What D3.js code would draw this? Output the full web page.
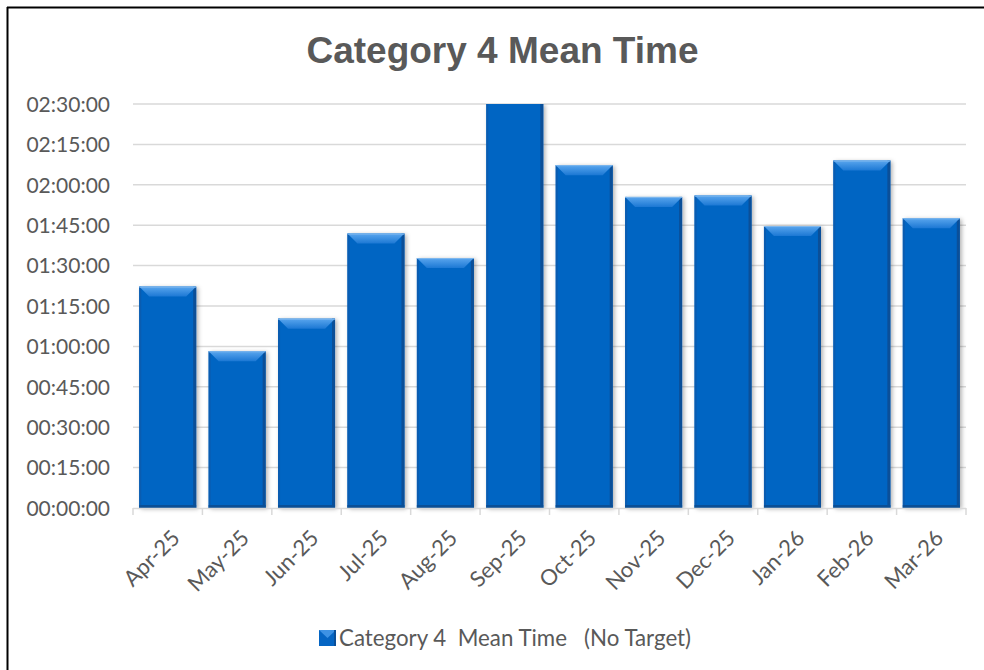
<!DOCTYPE html>
<html>
<head>
<meta charset="utf-8">
<script src="https://cdn.jsdelivr.net/npm/d3@7"></script>
<style>
  html, body { margin: 0; padding: 0; background: #fff; }
  svg { display: block; }
</style>
</head>
<body>
<div id="chart"></div>
<script>
// ---- data ----
const categories = ["Apr-25","May-25","Jun-25","Jul-25","Aug-25","Sep-25","Oct-25","Nov-25","Dec-25","Jan-26","Feb-26","Mar-26"];
const meanTimes = ["01:22:12","00:58:12","01:10:18","01:41:54","01:32:48","02:33:00","02:07:18","01:55:30","01:56:00","01:44:42","02:09:00","01:47:36"];
const yTickLabels = ["00:00:00","00:15:00","00:30:00","00:45:00","01:00:00","01:15:00","01:30:00","01:45:00","02:00:00","02:15:00","02:30:00"];
const chartTitle = "Category 4 Mean Time";
const seriesName = "Category 4  Mean Time   (No Target)";

const toSec = s => { const p = s.split(":").map(Number); return p[0]*3600 + p[1]*60 + p[2]; };
const values = meanTimes.map(toSec);
const yTicks = yTickLabels.map(toSec);

const W = 984, H = 670;
const plot = { left: 133, right: 966, top: 104, bottom: 508 };

const svg = d3.select("#chart").append("svg").attr("width", W).attr("height", H);

const defs = svg.append("defs");
const topGrad = defs.append("linearGradient").attr("id","topGrad").attr("x1",0).attr("y1",0).attr("x2",0).attr("y2",1);
topGrad.append("stop").attr("offset","0%").attr("stop-color","#5aa6ee");
topGrad.append("stop").attr("offset","100%").attr("stop-color","#1c78d4");
const shadow = defs.append("filter").attr("id","shadow").attr("x","-20%").attr("y","-20%").attr("width","140%").attr("height","140%");
shadow.append("feDropShadow").attr("dx",2).attr("dy",1).attr("stdDeviation",2).attr("flood-color","#000").attr("flood-opacity",0.3);
defs.append("clipPath").attr("id","plotClip").append("rect")
  .attr("x", plot.left - 10).attr("y", plot.top).attr("width", plot.right - plot.left + 20).attr("height", plot.bottom - plot.top + 10);

// border (top and left visible)
svg.append("line").attr("x1",7).attr("x2",W).attr("y1",7.5).attr("y2",7.5).attr("stroke","#000").attr("stroke-width",2);
svg.append("line").attr("x1",7.5).attr("x2",7.5).attr("y1",7).attr("y2",H).attr("stroke","#000").attr("stroke-width",2);

// title
svg.append("text").attr("x", 502.5).attr("y", 63).attr("text-anchor","middle")
  .attr("font-family","'Liberation Sans', Arial, sans-serif").attr("font-weight","bold")
  .attr("font-size", 37).attr("fill","#595959").text(chartTitle);

const x = d3.scaleBand().domain(categories).range([plot.left, plot.right]).paddingInner(0.179).paddingOuter(0.0895);
const y = d3.scaleLinear().domain([0, toSec("02:30:00")]).range([plot.bottom, plot.top]);

const fontFam = "Lato, 'Liberation Sans', sans-serif";

// gridlines
svg.append("g").selectAll("line").data(yTicks.slice(1)).join("line")
  .attr("x1", plot.left).attr("x2", plot.right)
  .attr("y1", d => y(d)).attr("y2", d => y(d))
  .attr("stroke","#d9d9d9").attr("stroke-width",1.5);

// y-axis labels
const yAxis = d3.axisLeft(y).tickValues(yTicks).tickSize(0).tickPadding(23).tickFormat((d,i) => yTickLabels[i]);
const gy = svg.append("g").attr("transform",`translate(${plot.left},0)`).call(yAxis);
gy.select(".domain").remove();
gy.selectAll("text").attr("font-family", fontFam).attr("font-size", 21).attr("fill","#595959").attr("dy","0.35em");

// bars
const bars = svg.append("g").attr("clip-path","url(#plotClip)")
  .selectAll("g.bar").data(categories.map((c,i) => ({c, v: values[i]}))).join("g").attr("class","bar");
const bw = x.bandwidth();
const bev = 10;
bars.each(function(d) {
  const g = d3.select(this);
  const x0 = x(d.c), x1 = x0 + bw;
  const yt = Math.max(y(d.v), plot.top), yb = y(0);
  const clipped = y(d.v) < plot.top;
  g.append("rect").attr("x", x0).attr("y", yt).attr("width", bw).attr("height", yb - yt)
    .attr("fill","#0565c3").attr("filter","url(#shadow)");
  g.append("rect").attr("x", x1 - 3).attr("y", yt).attr("width", 3).attr("height", yb - yt).attr("fill","#0b4f98");
  g.append("rect").attr("x", x0).attr("y", yt).attr("width", 2).attr("height", yb - yt).attr("fill","#0a5cb0");
  g.append("rect").attr("x", x0).attr("y", yb - 3).attr("width", bw).attr("height", 3).attr("fill","#0a4f96");
  if (!clipped) {
    g.append("path")
      .attr("d", `M${x0},${yt} L${x1},${yt} L${x1 - bev},${yt + bev} L${x0 + bev},${yt + bev} Z`)
      .attr("fill","url(#topGrad)");
    g.append("line").attr("x1", x0).attr("x2", x1).attr("y1", yt + 0.5).attr("y2", yt + 0.5)
      .attr("stroke","#7fb8ee").attr("stroke-width",1);
  }
});

// x axis line & ticks
svg.append("line").attr("x1", plot.left).attr("x2", plot.right).attr("y1", plot.bottom + 0.5).attr("y2", plot.bottom + 0.5)
  .attr("stroke","#d9d9d9").attr("stroke-width",1.5);
const boundaries = categories.map(c => x(c) - x.step() * x.paddingInner() / 2).concat([plot.right]);
svg.append("g").selectAll("line").data(boundaries).join("line")
  .attr("x1", d => d).attr("x2", d => d).attr("y1", plot.bottom).attr("y2", plot.bottom + 7)
  .attr("stroke","#d9d9d9").attr("stroke-width",1.5);

// x labels rotated
svg.append("g").selectAll("text").data(categories).join("text")
  .attr("transform", d => `translate(${x(d) + bw / 2 + 8},${plot.bottom + 26}) rotate(-45)`)
  .attr("text-anchor","end").attr("dy","0.35em")
  .attr("font-family", fontFam).attr("font-size", 22).attr("fill","#595959")
  .text(d => d);

// legend
const lg = svg.append("g").attr("transform","translate(319,630)");
lg.append("rect").attr("width",17).attr("height",16).attr("fill","#0565c3");
lg.append("path").attr("d","M0,0 L17,0 L8.5,8 Z").attr("fill","#3d92e4");
lg.append("rect").attr("x",15).attr("width",2).attr("height",16).attr("fill","#0b4f98");
lg.append("text").attr("x", 20).attr("y", 8).attr("dy","0.35em")
  .attr("font-family", fontFam).attr("font-size", 22.3).attr("fill","#595959")
  .attr("xml:space","preserve").style("white-space","pre")
  .text(seriesName);
</script>
</body>
</html>
